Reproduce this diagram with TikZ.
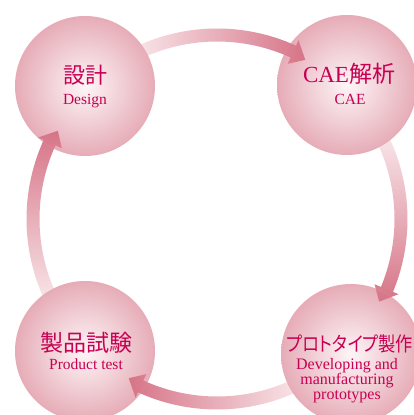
\documentclass[tikz,border=0pt]{standalone}
\usepackage{fontspec}
\setmainfont{Liberation Serif}
\newfontfamily\cjk{Noto Sans CJK JP}
\newfontfamily\cjkp[RawFeature=+palt]{Noto Sans CJK JP}
\definecolor{ballin}{RGB}{253,245,247}
\definecolor{ballmid}{RGB}{246,222,227}
\definecolor{ballout}{RGB}{230,172,183}
\definecolor{arrlight}{RGB}{251,238,240}
\definecolor{arrdark}{RGB}{214,116,135}
\definecolor{txt}{RGB}{200,0,82}
\pgfdeclareradialshading{ball}{\pgfpoint{0bp}{0bp}}{color(0bp)=(ballin); color(8bp)=(ballmid); color(25bp)=(ballout); color(50bp)=(ballout)}
\newcommand\cyclearrow[3]{%
  ([shift={(#1:190.5)}]ring) arc[start angle=#1, end angle=#2, radius=190.5]
  -- ([shift={(#2:196.5)}]ring) -- ([shift={(#3:182)}]ring) -- ([shift={(#2:170.5)}]ring)
  -- ([shift={(#2:177.5)}]ring) arc[start angle=#2, end angle=#1, radius=177.5] -- cycle}
\tikzset{
  stepball/.style={circle, shading=ball, minimum size=140pt, inner sep=0pt},
  jp/.style={text=txt, font=\cjk\fontsize{22}{22}\selectfont, inner sep=0pt},
  en/.style={text=txt, font=\fontsize{15.5}{15.5}\selectfont, inner sep=0pt, anchor=base},
}
\begin{document}
\begin{tikzpicture}[x=1pt,y=1pt]
\useasboundingbox (0,0) rectangle (414,415);
\clip (0,0) rectangle (414,415);
\fill[white] (0,0) rectangle (414,415);
\coordinate (ring) at (217,196);
% arrows (bodies)
\shade[left color=arrlight, right color=arrdark] \cyclearrow{120}{65.5}{61};
\shade[top color=arrlight, bottom color=arrdark] \cyclearrow{30}{-22.5}{-27};
\shade[right color=arrlight, left color=arrdark] \cyclearrow{-60}{-114.5}{-119};
\shade[bottom color=arrlight, top color=arrdark] \cyclearrow{210}{155.5}{151};
% circles
\node[stepball] (design) at (85,329) {};
\node[stepball] (cae) at (347,330) {};
\node[stepball] (test) at (85,64) {};
\node[stepball] (proto) at (351,61) {};
% arrow heads over target circles
\begin{scope}
  \clip (cae) circle (70);
  \shade[left color=arrlight, right color=arrdark] \cyclearrow{120}{65.5}{61};
\end{scope}
\begin{scope}
  \clip (proto) circle (70);
  \shade[top color=arrlight, bottom color=arrdark] \cyclearrow{30}{-22.5}{-27};
\end{scope}
\begin{scope}
  \clip (test) circle (70);
  \shade[right color=arrlight, left color=arrdark] \cyclearrow{-60}{-114.5}{-119};
\end{scope}
\begin{scope}
  \clip (design) circle (70);
  \shade[bottom color=arrlight, top color=arrdark] \cyclearrow{210}{155.5}{151};
\end{scope}
% texts
\node[jp] (designjp) at (85,340) {設計};
\node[en] (designen) at (85,310) {Design};
\node[text=txt, inner sep=0pt, anchor=base] (caejp) at (349,332) {{\fontsize{23}{23}\selectfont CAE}{\cjk\fontsize{23}{23}\selectfont 解析}};
\node[en] (caeen) at (350,310) {CAE};
\node[jp, font=\cjk\fontsize{23}{23}\selectfont] (testjp) at (86,72) {製品試験};
\node[en] (testen) at (86,45) {Product test};
\node[jp, font=\cjkp\fontsize{20}{20}\selectfont] (protojp) at (350,71) {\scalebox{0.86}[1]{プロトタイプ製作}};
\node[en, font=\fontsize{16}{16}\selectfont] (protoen1) at (347,45) {Developing and};
\node[en, font=\fontsize{16}{16}\selectfont] (protoen2) at (347,30) {manufacturing};
\node[en, font=\fontsize{16}{16}\selectfont] (protoen3) at (347,15) {prototypes};
\end{tikzpicture}
\end{document}
